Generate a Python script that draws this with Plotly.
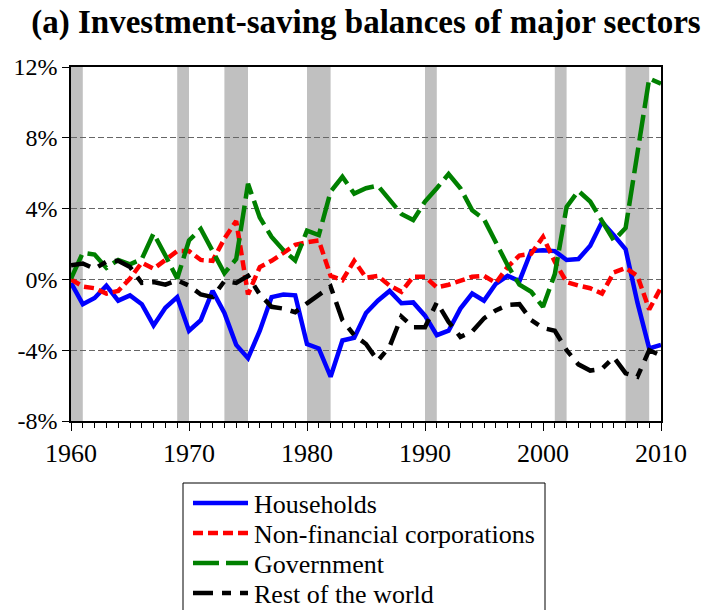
import plotly.graph_objects as go

years = list(range(1960, 2011))

households = [-0.2, -1.4, -1.05, -0.35, -1.2, -0.9, -1.4, -2.6, -1.6, -1.0,
              -2.9, -2.3, -0.65, -1.9, -3.7, -4.45, -2.9, -1.0, -0.85, -0.9,
              -3.65, -3.9, -5.5, -3.45, -3.3, -1.9, -1.2, -0.65, -1.35, -1.3,
              -2.05, -3.15, -2.9, -1.65, -0.8, -1.2, -0.25, 0.2, -0.1, 1.6,
              1.65, 1.6, 1.1, 1.15, 1.9, 3.25, 2.5, 1.7, -1.3, -3.9, -3.7]

nonfin_corp = [0.0, -0.4, -0.5, -0.8, -0.65, 0.05, 0.95, 0.6, 1.1, 1.6,
               1.6, 1.1, 1.05, 2.3, 3.3, -0.85, 0.7, 1.05, 1.5, 1.95,
               2.1, 2.2, 0.2, -0.05, 1.05, 0.1, 0.2, -0.35, -0.7, 0.15,
               0.15, -0.45, -0.3, -0.05, 0.15, 0.2, -0.2, 0.7, 1.35, 1.45,
               2.4, 1.0, -0.15, -0.35, -0.5, -0.8, 0.4, 0.65, 0.2, -1.7, -0.45]

government = [0.05, 1.5, 1.4, 0.65, 1.1, 0.85, 1.15, 2.6, 1.35, 0.05,
              2.2, 2.85, 1.6, 0.35, 1.15, 5.4, 3.5, 2.4, 1.65, 1.07,
              2.75, 2.5, 4.95, 5.8, 4.85, 5.15, 5.3, 4.45, 3.7, 3.35,
              4.4, 5.15, 5.95, 5.15, 3.9, 3.4, 2.1, 0.8, -0.3, -0.7,
              -1.55, 0.3, 4.1, 5.0, 4.4, 3.35, 2.2, 2.9, 7.0, 11.35, 11.05]

rest_of_world = [0.8, 0.9, 0.6, 1.0, 1.05, 0.7, -0.2, -0.15, -0.3, -0.05,
                 -0.35, -0.85, -1.0, -0.1, -0.2, 0.2, -0.85, -1.55, -1.65, -1.85,
                 -1.35, -0.85, -0.4, -2.3, -3.15, -3.65, -4.6, -3.8, -2.1, -2.7,
                 -2.7, -1.3, -2.4, -3.25, -2.95, -2.2, -1.75, -1.45, -1.4, -2.3,
                 -2.75, -2.9, -4.0, -4.8, -5.15, -5.05, -4.4, -5.3, -5.5, -4.0, -4.3]

recession_start = [1960, 1969, 1973, 1980, 1990, 2001, 2007]
recession_end = [1961, 1970, 1975, 1982, 1991, 2002, 2009]

y_tickvals = [-8, -4, 0, 4, 8, 12]
y_ticktext = ["-8%", "-4%", "0%", "4%", "8%", "12%"]
x_tickvals = [1960, 1970, 1980, 1990, 2000, 2010]

series_names = ["Households", "Non-financial corporations", "Government", "Rest of the world"]
series_values = [households, nonfin_corp, government, rest_of_world]
series_colors = ["#0000FF", "#FF0000", "#008000", "#000000"]
series_dashes = ["solid", "10px,5px", "26px,7px", "20px,9px,9px,9px"]

FONT = "Liberation Serif"

W, H = 704, 610
L, R, T, B = 71, 43, 67, 189
PW, PH = W - L - R, H - T - B


def px_x(x):
    return (x - L) / PW


def px_y(y):
    return (H - B - y) / PH


fig = go.Figure()
for name, vals, color, dash in zip(series_names, series_values, series_colors, series_dashes):
    fig.add_trace(go.Scatter(x=years, y=vals, mode="lines", name=name, showlegend=False,
                             line=dict(color=color, width=4.5, dash=dash)))

for s, e in zip(recession_start, recession_end):
    fig.add_shape(type="rect", xref="x", yref="paper", x0=s, x1=e, y0=0, y1=1,
                  fillcolor="#C0C0C0", line=dict(width=0), layer="below")

# legend box (drawn manually to match the reference spacing)
fig.add_shape(type="rect", xref="paper", yref="paper",
              x0=px_x(183), x1=px_x(545), y0=px_y(483), y1=px_y(650),
              fillcolor="white", line=dict(color="black", width=1), layer="above")
legend_rows = [503, 533, 563, 593]
for name, color, dash, ry in zip(series_names, series_colors, series_dashes, legend_rows):
    fig.add_shape(type="line", xref="paper", yref="paper",
                  x0=px_x(193), x1=px_x(248), y0=px_y(ry), y1=px_y(ry),
                  line=dict(color=color, width=4.5, dash=dash), layer="above")
    fig.add_annotation(text=name, xref="paper", yref="paper", x=px_x(252), y=px_y(ry + 1),
                       xanchor="left", yanchor="middle", showarrow=False,
                       font=dict(family=FONT, size=26, color="black"))

fig.update_layout(
    width=W, height=H,
    margin=dict(l=L, r=R, t=T, b=B, autoexpand=False),
    paper_bgcolor="white", plot_bgcolor="white",
    font=dict(family=FONT, size=24, color="black"),
    title=dict(text="(a) Investment-saving balances of major sectors",
               font=dict(family=FONT, size=33, weight="bold", color="black"),
               x=0.5, xref="paper", xanchor="center",
               y=1 - 21 / H, yref="container", yanchor="middle"),
    showlegend=False,
)

fig.update_xaxes(range=[1960, 2010], tickmode="array", tickvals=x_tickvals,
                 ticks="outside", ticklen=8, tickwidth=1, tickcolor="black",
                 minor=dict(dtick=1, tick0=1960, ticks="outside", ticklen=5,
                            tickcolor="black", showgrid=False),
                 showgrid=False, zeroline=False,
                 showline=True, mirror=True, linecolor="black", linewidth=1.5,
                 tickfont=dict(family=FONT, size=26, color="black"))

fig.update_yaxes(range=[-8, 12], tickmode="array", tickvals=y_tickvals, ticktext=y_ticktext,
                 ticks="outside", ticklen=7, tickwidth=1, tickcolor="black",
                 showgrid=True, gridcolor="#666666", gridwidth=1, griddash="6px,3px",
                 zeroline=False,
                 showline=True, mirror=True, linecolor="black", linewidth=1.5,
                 tickfont=dict(family=FONT, size=24, color="black"))

fig.write_html("out.html")
